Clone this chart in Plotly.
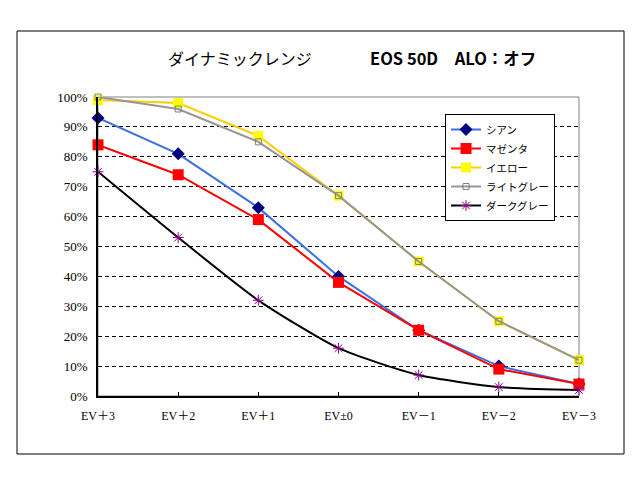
import plotly.graph_objects as go

categories = ["EV＋3", "EV＋2", "EV＋1", "EV±0", "EV－1", "EV－2", "EV－3"]
cyan = [93, 81, 63, 40, 22, 10, 4]
magenta = [84, 74, 59, 38, 22, 9, 4]
yellow = [99, 98, 87, 67, 45, 25, 12]
lightgray = [100, 96, 85, 67, 45, 25, 12]
darkgray = [75, 53, 32, 16, 7, 3, 2]
y_ticks = list(range(0, 101, 10))
y_ticklabels = [f"{v}%" for v in y_ticks]

xs = list(range(len(categories)))

# page is offset by ~8px body margin; compensate
OFF = 8
L, T, PW, PH = 98 - OFF, 97 - OFF, 481, 299


def px(xpix):
    return (xpix - 98) / PW


def py(ypix):
    return (396 - ypix) / PH


fig = go.Figure()
fig.add_trace(go.Scatter(x=xs, y=cyan, name="シアン", mode="lines+markers",
                         line=dict(color="#3A6FE8", width=2),
                         marker=dict(symbol="diamond", size=10, color="#000080"),
                         cliponaxis=False))
fig.add_trace(go.Scatter(x=xs, y=magenta, name="マゼンタ", mode="lines+markers",
                         line=dict(color="#FF0000", width=2),
                         marker=dict(symbol="square", size=11, color="#FF0000"),
                         cliponaxis=False))
fig.add_trace(go.Scatter(x=xs, y=yellow, name="イエロー", mode="lines+markers",
                         line=dict(color="#FFCC00", width=2),
                         marker=dict(symbol="square", size=10, color="#FFFF00"),
                         cliponaxis=False))
fig.add_trace(go.Scatter(x=xs, y=lightgray, name="ライトグレー", mode="lines+markers",
                         line=dict(color="#969696", width=2),
                         marker=dict(symbol="square-open", size=6, color="#808080",
                                     line=dict(width=1)),
                         cliponaxis=False))
fig.add_trace(go.Scatter(x=xs, y=darkgray, name="ダークグレー", mode="lines+markers",
                         line=dict(color="#000000", width=2, shape="spline", smoothing=0.6),
                         marker=dict(symbol="asterisk-open", size=9, color="#8B008B",
                                     line=dict(color="#8B008B", width=1)),
                         cliponaxis=False))

# outer chart border and gray plot-area border
fig.add_shape(type="rect", xref="paper", yref="paper",
              x0=px(17), x1=px(624), y0=py(454), y1=py(31),
              line=dict(color="black", width=1), layer="below")
fig.add_shape(type="rect", xref="paper", yref="paper",
              x0=0, x1=1, y0=0, y1=1,
              line=dict(color="#808080", width=1), layer="between")

fig.add_annotation(text="ダイナミックレンジ", xref="paper", yref="paper",
                   x=px(240), y=py(58), showarrow=False, xanchor="center", yanchor="middle",
                   font=dict(family="Noto Sans CJK JP", size=16, color="black"))
fig.add_annotation(text="<b>EOS 50D　ALO：オフ</b>", xref="paper", yref="paper",
                   x=px(453), y=py(58), showarrow=False, xanchor="center", yanchor="middle",
                   font=dict(family="Noto Sans CJK JP", size=16.5, color="black"))

fig.update_layout(
    width=640, height=480,
    margin=dict(l=L, r=640 - L - PW, t=T, b=480 - T - PH, autoexpand=False),
    paper_bgcolor="white", plot_bgcolor="white",
    showlegend=True,
    legend=dict(x=px(445), y=py(114), xanchor="left", yanchor="top",
                bordercolor="black", borderwidth=1, bgcolor="white",
                font=dict(family="Noto Sans CJK JP", size=10.5, color="black"),
                tracegroupgap=0, itemwidth=30),
    font=dict(family="Liberation Serif, Noto Sans CJK JP", size=12, color="black"),
)
fig.update_xaxes(range=[0, len(categories) - 1], tickvals=xs, ticktext=categories,
                 showline=True, linecolor="black", linewidth=1.5,
                 ticks="inside", ticklen=4, tickcolor="black", showgrid=False,
                 zeroline=False, ticklabelstandoff=8,
                 tickfont=dict(family="Liberation Serif, Noto Sans CJK JP", size=12))
fig.update_yaxes(range=[0, 100], tickvals=y_ticks, ticktext=y_ticklabels,
                 showline=True, linecolor="black", linewidth=1.5,
                 showgrid=True, gridcolor="black", griddash="4px,3px", gridwidth=1,
                 zeroline=False, ticks="", ticklabelstandoff=6,
                 tickfont=dict(family="Liberation Serif", size=13))

fig.write_html("out.html")
